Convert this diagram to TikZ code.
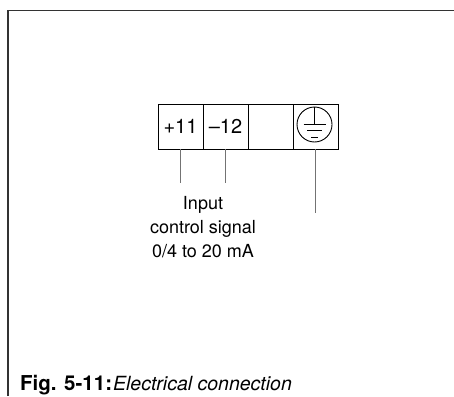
\documentclass[tikz,border=0pt]{standalone}
\usepackage{fontspec}
\setmainfont{TeX Gyre Heros}
\tikzset{
  cell/.style={draw,line width=0.9pt,minimum size=45pt,inner sep=0pt,font=\fontsize{20}{24}\selectfont},
  wire/.style={draw=black!55,line width=1pt},
  frame/.style={draw=black!80,line width=1.6pt}
}
\begin{document}
\begin{tikzpicture}[x=1pt,y=-1pt]
\useasboundingbox (0,0) rectangle (454,396);
% frame
\draw[frame] (8,396) -- (8,10.5) -- (454,10.5);
% terminal block
\node[cell] (t11) at (180.5,126.5) {+11};
\node[cell] (t12) at (225.5,126.5) {\textendash12};
\node[cell] (tfree) at (270.5,126.5) {};
\node[cell] (tpe) at (315.5,126.5) {};
% earth symbol
\node[draw,circle,line width=0.9pt,minimum size=35pt,inner sep=0pt] (pe) at (314.5,124.5) {};
\draw[line width=0.9pt] (pe.north) -- (314.5,124);
\draw[line width=0.9pt] (303.5,124) -- (325.5,124);
\draw[line width=0.9pt] (307,130.5) -- (322,130.5);
\draw[line width=0.9pt] (311,137) -- (318,137);
% wires
\coordinate (e11) at (180.5,183);
\coordinate (e12) at (225.5,183);
\coordinate (epe) at (315.5,213);
\draw[wire] (t11.south) -- (e11);
\draw[wire] (t12.south) -- (e12);
\draw[wire] (tpe.south) -- (epe);
\node[anchor=north,inner sep=0pt,align=center,font=\fontsize{18}{24}\selectfont] (signal) at (203,196) {Input\\control signal\\0/4 to 20 mA};
% caption
\node[anchor=base west,inner sep=0pt] (caption) at (20,390) {{\fontsize{20.5}{22}\selectfont\bfseries Fig. 5-11:}\kern1pt{\fontsize{19.5}{22}\selectfont\itshape Electrical connection}};
\end{tikzpicture}
\end{document}
